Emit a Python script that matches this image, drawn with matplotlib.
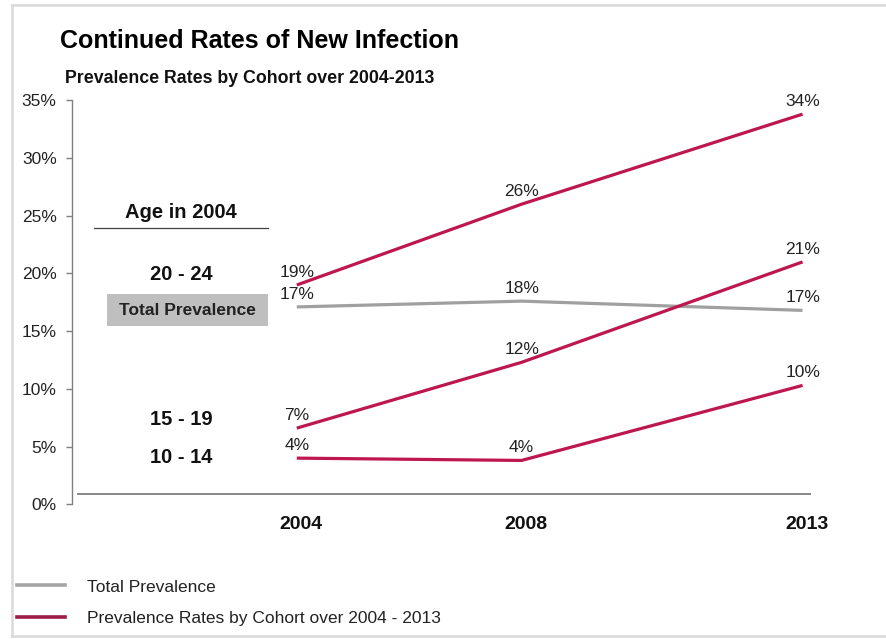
import matplotlib
matplotlib.use('Agg')
import matplotlib.pyplot as plt
import matplotlib.transforms as mtransforms
from matplotlib.lines import Line2D
from matplotlib.patches import Rectangle

plt.rcParams['font.family'] = ['Liberation Sans', 'DejaVu Sans']

# Data
years = [2004, 2008, 2013]
total_prev = [17.1, 17.6, 16.8]
cohort_20_24 = [19.0, 26.0, 33.8]
cohort_15_19 = [6.6, 12.3, 21.0]
cohort_10_14 = [4.0, 3.8, 10.3]
label_total = ['17%', '18%', '17%']
label_20_24 = ['19%', '26%', '34%']
label_15_19 = ['7%', '12%', '21%']
label_10_14 = ['4%', '4%', '10%']
yticks = [0, 5, 10, 15, 20, 25, 30, 35]

W, H = 887, 639
RED = '#BE1750'
GREY = '#A0A0A0'


def fx(px):
    return px / W


def fy(py):
    return 1 - py / H


fig = plt.figure(figsize=(W / 100, H / 100), dpi=100)
ax = fig.add_axes([fx(72), fy(504.3), (811 - 72) / W, (504.3 - 100.3) / H])
ax.set_xlim(2000, 2013.15)
ax.set_ylim(0, 35)

# Lines
ax.plot(years, total_prev, color=GREY, lw=2.3, solid_capstyle='butt')
for vals in (cohort_20_24, cohort_15_19, cohort_10_14):
    ax.plot(years, vals, color=RED, lw=2.3, solid_capstyle='butt')

# Value labels
for vals, labs in ((total_prev, label_total), (cohort_20_24, label_20_24),
                   (cohort_15_19, label_15_19), (cohort_10_14, label_10_14)):
    for x, v, lab in zip(years, vals, labs):
        ax.annotate(lab, (x, v), xytext=(0, 5.8), textcoords='offset points',
                    ha='center', va='baseline', fontsize=12.5, color='#222222')

# Category baseline
ax.plot([2000.1, 2013.15], [0.9, 0.9], color='#7F7F7F', lw=1.3)

# Axes styling
for s in ('top', 'right', 'bottom'):
    ax.spines[s].set_visible(False)
ax.spines['left'].set_color('#7F7F7F')
ax.spines['left'].set_linewidth(1.0)
ax.set_yticks(yticks)
ax.set_yticklabels([f'{t}%' for t in yticks])
ax.tick_params(axis='y', length=4, width=1.0, color='#7F7F7F', pad=7,
               labelsize=12.5, labelcolor='#222222')
ax.set_xticks(years)
ax.set_xticklabels([str(y) for y in years], fontweight='bold', fontsize=14)
ax.tick_params(axis='x', length=0, pad=8.5, labelcolor='#111111')
shift = mtransforms.ScaledTranslation(4 / 100, 0, fig.dpi_scale_trans)
for lab in ax.get_xticklabels():
    lab.set_transform(lab.get_transform() + shift)

# Left side cohort labels
ax.text(2001.93, 25.3, 'Age in 2004', ha='center', va='center', fontsize=14.5,
        fontweight='bold', color='#111111')
ax.plot([2000.39, 2003.48], [23.9, 23.9], color='#404040', lw=0.9)
ax.text(2001.95, 19.95, '20 - 24', ha='center', va='center', fontsize=14.5,
        fontweight='bold', color='#111111')
ax.add_patch(Rectangle((2000.62, 15.47), 2003.48 - 2000.62, 18.19 - 15.47,
                       facecolor='#BFBFBF', edgecolor='none'))
ax.text(2002.05, 16.8, 'Total Prevalence', ha='center', va='center',
        fontsize=12.5, fontweight='bold', color='#222222')
ax.text(2001.95, 7.36, '15 - 19', ha='center', va='center', fontsize=14.5,
        fontweight='bold', color='#111111')
ax.text(2001.95, 4.04, '10 - 14', ha='center', va='center', fontsize=14.5,
        fontweight='bold', color='#111111')

# Titles
fig.text(fx(60), fy(48), 'Continued Rates of New Infection', fontsize=18,
         fontweight='bold', va='baseline', color='#000000')
fig.text(fx(65), fy(82.7), 'Prevalence Rates by Cohort over 2004-2013',
         fontsize=12.8, fontweight='bold', va='baseline', color='#111111')

# Legend
fig.add_artist(Line2D([fx(17), fx(65)], [fy(585), fy(585)], color='#A6A6A6', lw=2.6))
fig.text(fx(87), fy(591.5), 'Total Prevalence', fontsize=12.5, va='baseline',
         color='#222222')
fig.add_artist(Line2D([fx(17), fx(65)], [fy(616.7), fy(616.7)], color='#9E1B48', lw=2.6))
fig.text(fx(87), fy(623), 'Prevalence Rates by Cohort over 2004 - 2013',
         fontsize=12.5, va='baseline', color='#222222')

# Outer frame
fig.add_artist(Line2D([fx(12), fx(12)], [fy(5), fy(636)], color='#D9D9D9', lw=1.8))
fig.add_artist(Line2D([fx(12), 1.0], [fy(5), fy(5)], color='#D9D9D9', lw=1.8))
fig.add_artist(Line2D([fx(12), 1.0], [fy(636), fy(636)], color='#D9D9D9', lw=1.8))

fig.savefig('out.png', dpi=100)
